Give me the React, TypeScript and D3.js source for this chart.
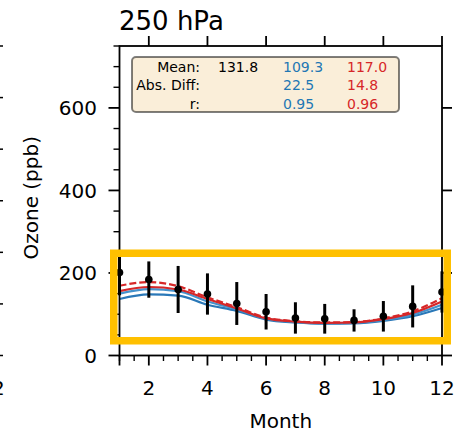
import React from "react";
import * as d3 from "d3";

// monthly climatology at 250 hPa
const months = [1, 2, 3, 4, 5, 6, 7, 8, 9, 10, 11, 12];
const obsMean = [201, 184, 160, 149, 126, 106, 91, 89, 85, 95, 119, 154];
const obsErr = [55, 44, 57, 50, 52, 43, 38, 36, 27, 37, 51, 50];
const redDashed = [169, 178, 168, 141, 117, 92, 83, 80, 81, 90, 107, 139];
const redSolid = [156, 166, 160, 137, 114, 90, 82, 79, 80, 88, 103, 131];
const blueLight = [150, 161, 156, 131, 112, 89, 81, 78, 79, 86, 99, 123];
const blueDark = [137, 148, 145, 123, 108, 87, 80, 77, 78, 84, 95, 115];

// stats table
const statLabels = ["Mean:", "Abs. Diff:", "r:"];
const statObs = ["131.8", "", ""];
const statBlue = ["109.3", "22.5", "0.95"];
const statRed = ["117.0", "14.8", "0.96"];

// ticks
const yMajor = [0, 200, 400, 600];
const xMajor = [2, 4, 6, 8, 10, 12];

const W = 459;
const H = 435;
const FONT = "DejaVu Sans, sans-serif";
const RED = "#d62728";
const BLUE = "#1f77b4";

const series = [
  { values: blueDark, color: "#2a78b8", dash: null },
  { values: blueLight, color: "#4592cc", dash: null },
  { values: redSolid, color: RED, dash: null },
  { values: redDashed, color: RED, dash: "7,3" },
];

export default function App() {
  const x = d3.scaleLinear().domain([1, 12]).range([119.5, 442]);
  const y = d3.scaleLinear().domain([0, 750]).range([355.5, 46]);

  const line = d3
    .line<number>()
    .x((d, i) => x(months[i]))
    .y((d) => y(d))
    .curve(d3.curveMonotoneX);

  const xMinor = d3.range(1, 12.01, 0.5).filter((m) => m % 2 !== 0);
  const yMinor = d3.range(0, 751, 50).filter((v) => v % 200 !== 0);

  // edge of the neighbouring panel on the left
  const yNeighbour = d3.scaleLinear().domain([0, 6]).range([355.5, 46]);

  const [x0, x1] = x.range();
  const [y0, y1] = y.range();

  return (
    <svg
      width={W}
      height={H}
      style={{ position: "absolute", left: 0, top: 0, background: "#fff" }}
      fontFamily={FONT}
    >
      {/* neighbour panel fragment */}
      {d3.range(0, 7).map((t) => (
        <line key={"nb" + t} x1={0} x2={3} y1={yNeighbour(t)} y2={yNeighbour(t)} stroke="#000" strokeWidth={1.5} />
      ))}
      <text x={-8} y={395} fontSize={20} textAnchor="middle">12</text>

      {/* title */}
      <text x={119} y={29.5} fontSize={26}>250 hPa</text>

      {/* model lines */}
      {series.map((s, i) => (
        <path
          key={"s" + i}
          d={line(s.values) || ""}
          fill="none"
          stroke={s.color}
          strokeWidth={2.2}
          strokeDasharray={s.dash || undefined}
        />
      ))}

      {/* observations with error bars */}
      {months.map((m, i) => (
        <g key={"o" + m}>
          <line
            x1={x(m)}
            x2={x(m)}
            y1={y(obsMean[i] + obsErr[i])}
            y2={y(obsMean[i] - obsErr[i])}
            stroke="#000"
            strokeWidth={3}
          />
          <circle cx={x(m)} cy={y(obsMean[i])} r={3.8} fill="#000" />
        </g>
      ))}

      {/* frame */}
      <rect x={x0} y={y1} width={x1 - x0} height={y0 - y1} fill="none" stroke="#000" strokeWidth={1.8} />

      {/* x ticks */}
      {xMajor.map((m) => (
        <g key={"xm" + m}>
          <line x1={x(m)} x2={x(m)} y1={y0} y2={y0 + 10} stroke="#000" strokeWidth={1.8} />
          <line x1={x(m)} x2={x(m)} y1={y1} y2={y1 - 10} stroke="#000" strokeWidth={1.8} />
          <text x={x(m)} y={395} fontSize={20} textAnchor="middle">{m}</text>
        </g>
      ))}
      <line x1={x(1)} x2={x(1)} y1={y0} y2={y0 + 10} stroke="#000" strokeWidth={1.8} />
      {xMinor.map((m) => (
        <line key={"xn" + m} x1={x(m)} x2={x(m)} y1={y0} y2={y0 + 5.5} stroke="#000" strokeWidth={1.4} />
      ))}
      <text x={(x0 + x1) / 2} y={428} fontSize={20} textAnchor="middle">Month</text>

      {/* y ticks */}
      {yMajor.map((v) => (
        <g key={"ym" + v}>
          <line x1={x0} x2={x0 - 11} y1={y(v)} y2={y(v)} stroke="#000" strokeWidth={1.8} />
          <line x1={x1} x2={x1 + 10} y1={y(v)} y2={y(v)} stroke="#000" strokeWidth={1.8} />
          <text x={97} y={y(v) + 7.3} fontSize={20} textAnchor="end">{v}</text>
        </g>
      ))}
      {yMinor.map((v) => (
        <line key={"yn" + v} x1={x0} x2={x0 - 6} y1={y(v)} y2={y(v)} stroke="#000" strokeWidth={1.4} />
      ))}
      <text
        transform={`translate(38, ${(y0 + y1) / 2 - 3}) rotate(-90)`}
        fontSize={20}
        textAnchor="middle"
      >
        Ozone (ppb)
      </text>

      {/* stats box */}
      <rect x={132} y={57} width={267} height={55} rx={4} fill="#F5DEB3" fillOpacity={0.5} stroke="#000" strokeOpacity={0.5} strokeWidth={2} />
      {statLabels.map((lab, i) => (
        <g key={"st" + i} fontSize={14}>
          <text x={200} y={72 + i * 18.3} textAnchor="end">{lab}</text>
          <text x={218} y={72 + i * 18.3}>{statObs[i]}</text>
          <text x={283} y={72 + i * 18.3} fill={BLUE}>{statBlue[i]}</text>
          <text x={347} y={72 + i * 18.3} fill={RED}>{statRed[i]}</text>
        </g>
      ))}

      {/* highlight */}
      <rect x={113.75} y={253.25} width={333.5} height={87.5} fill="none" stroke="#FFC000" strokeWidth={7.5} />
    </svg>
  );
}
